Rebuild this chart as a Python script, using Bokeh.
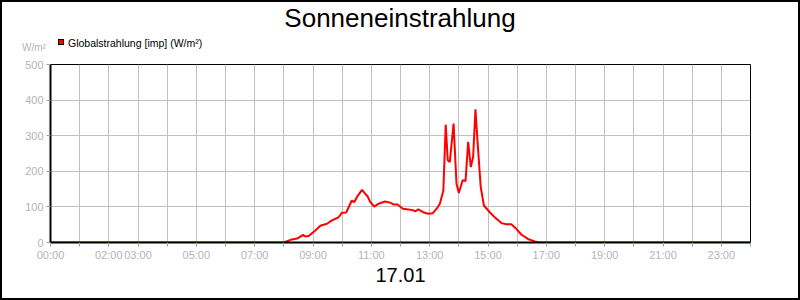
from bokeh.plotting import figure
from bokeh.layouts import column
from bokeh.models import Range1d, FixedTicker, Title, ColumnDataSource, Div
from bokeh.embed import file_html
from bokeh.resources import INLINE

# ---- data ----
hours = [0.0, 8.0, 8.23, 8.46, 8.66, 8.74, 8.85, 9.08, 9.25, 9.48, 9.65, 9.88,
         9.99, 10.14, 10.25, 10.33, 10.41, 10.51, 10.68, 10.79, 10.87, 10.96,
         11.1, 11.25, 11.47, 11.64, 11.76, 11.9, 12.08, 12.27, 12.46, 12.5,
         12.61, 12.78, 12.95, 13.1, 13.24, 13.35, 13.47, 13.55, 13.62, 13.69,
         13.82, 13.92, 14.0, 14.13, 14.23, 14.32, 14.41, 14.49, 14.57, 14.63,
         14.75, 14.86, 15.06, 15.23, 15.46, 15.63, 15.8, 15.97, 16.14, 16.37,
         16.6, 16.77, 24.0]
values = [0, 0, 7.5, 11, 21.6, 17, 18, 34, 47, 52.6, 62, 71,
          83.6, 84.5, 104, 118, 113, 128, 148, 137, 130, 114,
          101, 109, 115, 112, 107, 107, 95, 93, 90, 87,
          93, 85, 81, 82, 95, 109, 146, 331, 231, 226,
          334, 165, 139, 175, 173, 283, 212, 240, 374, 297,
          156, 104, 85, 71, 54.5, 51, 51, 38.5, 22.5, 10,
          3, 0, 0]
tick_hours = list(range(25))
labeled_hours = [0, 2, 3, 5, 7, 9, 11, 13, 15, 17, 19, 21, 23]
y_ticks = [0, 100, 200, 300, 400, 500]
title_text = "Sonneneinstrahlung"
series_name = "Globalstrahlung [imp] (W/m²)"
unit_text = "W/m²"
date_text = "17.01"
series_color = "#ff0000"

FONT = "Liberation Sans"
GRAY = "#b4b4b4"

# ---- header: title, unit, legend (HTML text) ----
HEAD_H = 56
head_html = (
    f'<div style="position:relative;width:800px;height:{HEAD_H}px;'
    f'font-family:\'{FONT}\',Arial,sans-serif;line-height:1;margin:0;padding:0;">'
    f'<span style="position:absolute;left:0;top:5px;width:800px;text-align:center;'
    f'font-size:26px;line-height:26px;color:black;white-space:nowrap;">{title_text}</span>'
    f'<span style="position:absolute;left:22px;top:43px;font-size:10px;line-height:10px;'
    f'color:{GRAY};white-space:nowrap;">{unit_text}</span>'
    f'<span style="position:absolute;left:58px;top:39px;width:6px;height:6px;'
    f'background:{series_color};border:1px solid black;"></span>'
    f'<span style="position:absolute;left:68px;top:38px;font-size:10.5px;line-height:10.5px;'
    f'color:black;white-space:nowrap;">{series_name}</span>'
    '</div>'
)
head = Div(text=head_html, width=800, height=HEAD_H, margin=0)

# ---- main chart ----
p = figure(width=800, height=300 - HEAD_H, output_backend="svg", toolbar_location=None,
           x_range=Range1d(0, 24), y_range=Range1d(0, 500),
           min_border_left=50, min_border_right=50, min_border_top=64 - HEAD_H,
           min_border_bottom=58, margin=0)
p.title = None
p.background_fill_color = "white"
p.border_fill_color = "white"
p.outline_line_color = "black"
p.outline_line_width = 1

src = ColumnDataSource(dict(h=hours, v=values))
p.line("h", "v", source=src, line_color=series_color, line_width=2)

xa = p.xaxis[0]
xa.ticker = FixedTicker(ticks=tick_hours)
xa.major_label_overrides = {h: (f"{h:02d}:00" if h in labeled_hours else "")
                            for h in tick_hours}
xa.minor_tick_line_color = None
xa.major_tick_in = 0
xa.major_tick_out = 4
xa.major_tick_line_color = "#a0a0a0"
xa.axis_line_color = "black"
xa.axis_line_width = 2
xa.major_label_text_color = GRAY
xa.major_label_text_font = FONT
xa.major_label_text_font_size = "11px"
xa.major_label_standoff = 2

ya = p.yaxis[0]
ya.ticker = FixedTicker(ticks=y_ticks)
ya.minor_tick_line_color = None
ya.major_tick_in = 0
ya.major_tick_out = 4
ya.major_tick_line_color = "#a0a0a0"
ya.axis_line_color = "black"
ya.axis_line_width = 2
ya.major_label_text_color = GRAY
ya.major_label_text_font = FONT
ya.major_label_text_font_size = "11px"
ya.major_label_standoff = 3

p.xgrid.ticker = FixedTicker(ticks=tick_hours)
p.xgrid.grid_line_color = "#c0c0c0"
p.ygrid.grid_line_color = "#c0c0c0"

p.add_layout(Title(text=date_text, align="center", text_font=FONT,
                   text_font_size="20px", text_font_style="normal",
                   text_color="black", standoff=4), "below")

layout = column(head, p, spacing=0, margin=0,
                stylesheets=[":host{position:relative;}",
                             ":host::after{content:'';position:absolute;left:0;top:0;"
                             "width:800px;height:300px;box-sizing:border-box;"
                             "border:2px solid black;pointer-events:none;z-index:1000;}"])

open("out.html", "w").write(file_html(layout, INLINE))
